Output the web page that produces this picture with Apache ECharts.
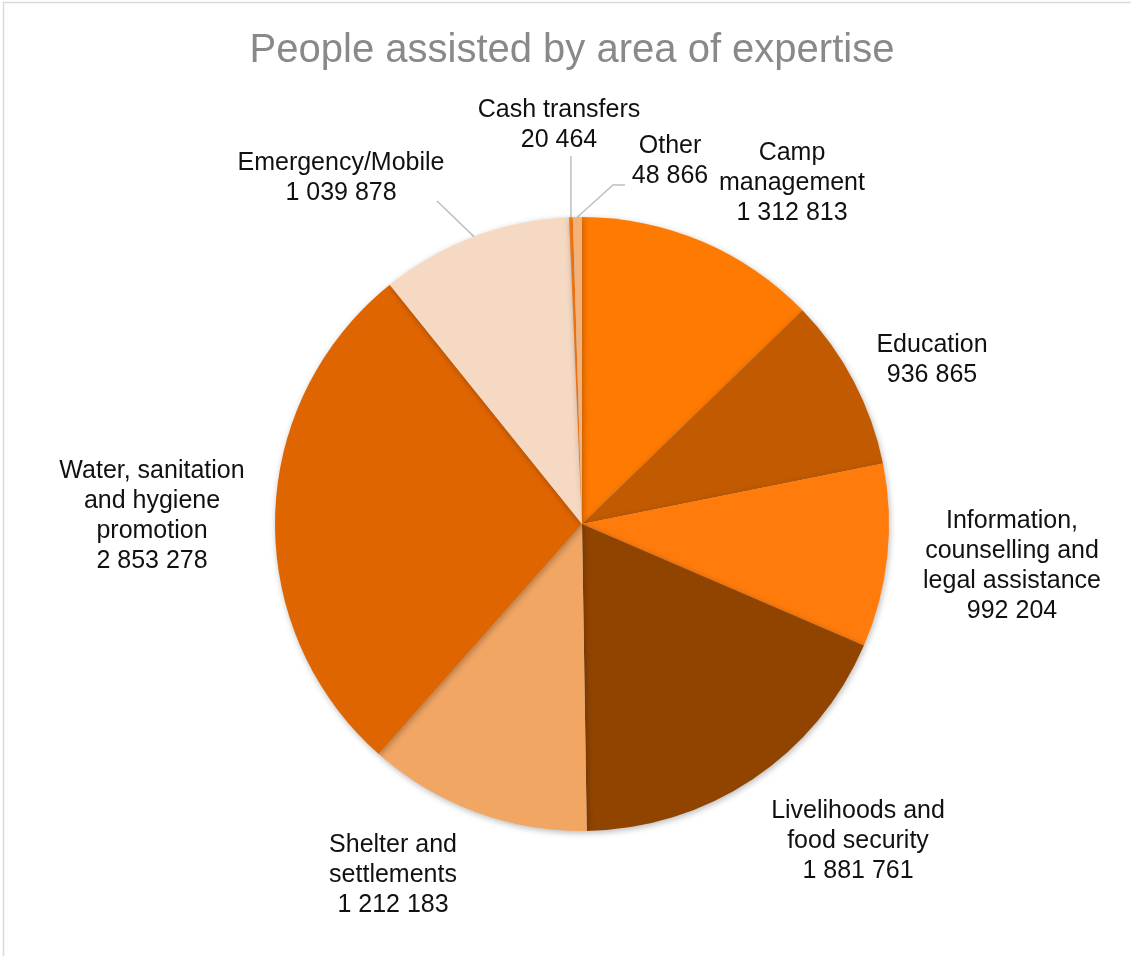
<!DOCTYPE html>
<html>
<head>
<meta charset="utf-8">
<script src="https://cdn.jsdelivr.net/npm/echarts@6/dist/echarts.min.js"></script>
<style>
html,body{margin:0;padding:0;background:#fff;}
#chart{width:1131px;height:956px;}
</style>
</head>
<body>
<div id="chart"></div>
<script>
var categories = [
  'Camp\nmanagement',
  'Education',
  'Information,\ncounselling and\nlegal assistance',
  'Livelihoods and\nfood security',
  'Shelter and\nsettlements',
  'Water, sanitation\nand hygiene\npromotion',
  'Emergency/Mobile',
  'Cash transfers',
  'Other'
];
var values = [1312813, 936865, 992204, 1881761, 1212183, 2853278, 1039878, 20464, 48866];
var colors = ['#FF7A00', '#C25A02', '#FF7B0C', '#914400', '#F2A664', '#DF6500', '#F6D9C3', '#FA7B12', '#F2B27C'];
var withLine = [false, false, false, false, false, false, true, true, true];

// label centre placement (layout only)
var labelPos = [
  [792, 183], [932, 360], [1012, 566], [858, 841], [393, 875],
  [152, 516], [341, 178], [559, 125], [670, 161]
];
// leader line bends (layout only): null = straight to label edge
var lineBends = {
  6: [[437, 201]],
  7: ['vertical', 156],
  8: [[613, 185], [625, 185]]
};

function fmt(v) { return String(v).replace(/\B(?=(\d{3})+(?!\d))/g, ' '); }

var chart = echarts.init(document.getElementById('chart'));
var data = categories.map(function (c, i) {
  return {
    name: c,
    value: values[i],
    itemStyle: { color: colors[i] },
    labelLine: { show: withLine[i] }
  };
});

chart.setOption({
  animation: false,
  title: {
    text: 'People assisted by area of expertise',
    left: 567,
    textAlign: 'center',
    top: 26,
    textStyle: { fontFamily: 'Liberation Sans', fontSize: 40, fontWeight: 'normal', color: '#898989' }
  },
  graphic: [{
    type: 'rect',
    shape: { x: 3.5, y: 2.5, width: 1160, height: 990 },
    style: { fill: 'none', stroke: '#d9d9d9', lineWidth: 1.5 },
    silent: true
  }],
  series: [{
    type: 'pie',
    center: [582, 524],
    radius: 307,
    startAngle: 90,
    clockwise: true,
    avoidLabelOverlap: false,
    data: data,
    itemStyle: {
      borderWidth: 0,
      shadowBlur: 6,
      shadowColor: 'rgba(0,0,0,0.28)',
      shadowOffsetX: 1,
      shadowOffsetY: 2
    },
    label: {
      show: true,
      position: 'outside',
      formatter: function (p) { return p.name + '\n' + fmt(p.value); },
      fontFamily: 'Liberation Sans',
      fontSize: 25,
      lineHeight: 30,
      color: '#111',
      align: 'center'
    },
    labelLine: {
      show: true,
      length: 20,
      length2: 10,
      lineStyle: { color: '#bfbfbf', width: 1.5 }
    },
    labelLayout: function (p) {
      var pos = labelPos[p.dataIndex];
      var out = { x: pos[0], y: pos[1], align: 'center', verticalAlign: 'middle' };
      var bend = lineBends[p.dataIndex];
      if (bend && p.labelLinePoints && p.labelLinePoints[0]) {
        var a = p.labelLinePoints[0];
        if (bend[0] === 'vertical') {
          out.labelLinePoints = [[a[0], a[1]], [a[0], (a[1] + bend[1]) / 2], [a[0], bend[1]]];
        } else if (bend.length === 1) {
          out.labelLinePoints = [[a[0], a[1]], bend[0], bend[0]];
        } else {
          out.labelLinePoints = [[a[0], a[1]], bend[0], bend[1]];
        }
      }
      return out;
    },
    emphasis: { disabled: true }
  }]
});
</script>
</body>
</html>
